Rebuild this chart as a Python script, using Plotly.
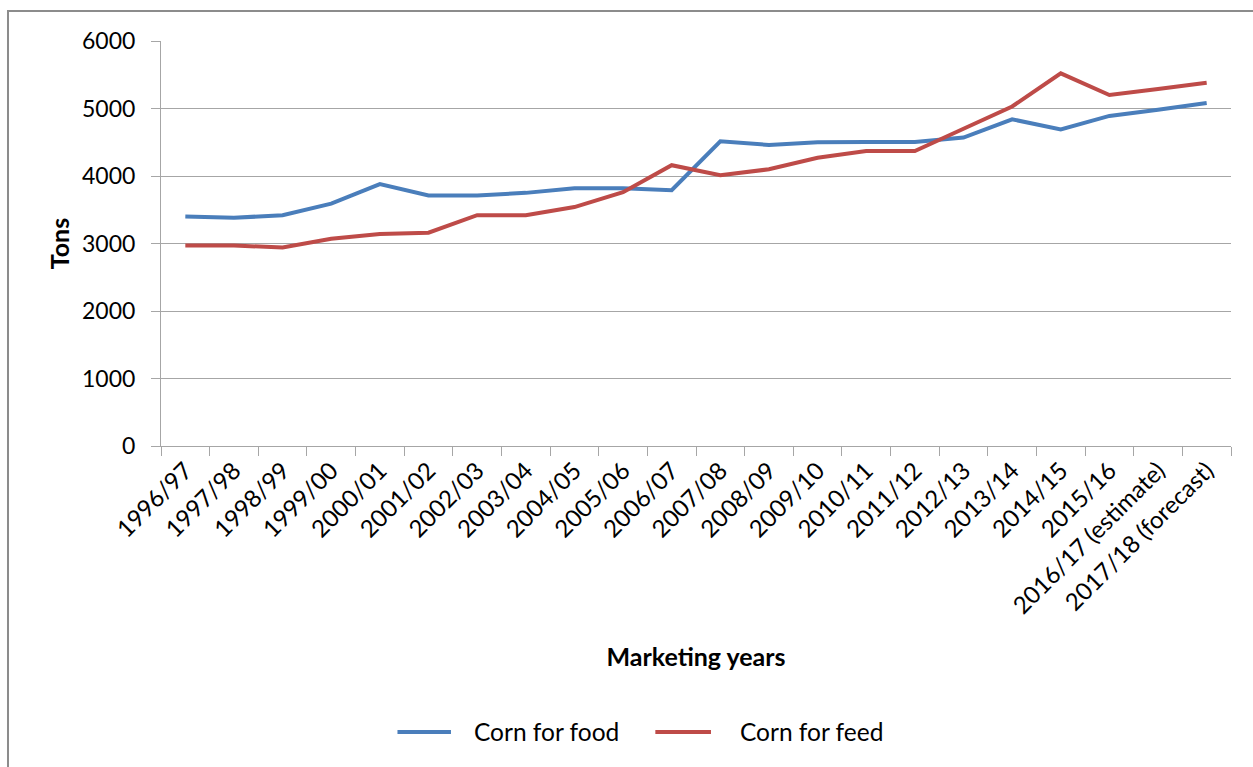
import plotly.graph_objects as go

# Marketing years (x categories)
years = [
    "1996/97", "1997/98", "1998/99", "1999/00", "2000/01", "2001/02",
    "2002/03", "2003/04", "2004/05", "2005/06", "2006/07", "2007/08",
    "2008/09", "2009/10", "2010/11", "2011/12", "2012/13", "2013/14",
    "2014/15", "2015/16", "2016/17 (estimate)", "2017/18 (forecast)",
]

# Corn use, tons
corn_for_food = [
    3400, 3380, 3420, 3590, 3880, 3710, 3710, 3750, 3820, 3820, 3790,
    4515, 4460, 4500, 4505, 4505, 4570, 4840, 4690, 4890, 4980, 5080,
]
corn_for_feed = [
    2970, 2970, 2940, 3070, 3140, 3160, 3420, 3420, 3540, 3760, 4160,
    4010, 4100, 4270, 4370, 4370, 4700, 5030, 5520, 5200, 5290, 5380,
]

y_ticks = [0, 1000, 2000, 3000, 4000, 5000, 6000]

series = [
    ("Corn for food", corn_for_food, "#4a7ebb"),
    ("Corn for feed", corn_for_feed, "#be4b48"),
]

FONT = "Lato"
GRID = "#a6a6a6"

fig = go.Figure()
for name, values, color in series:
    fig.add_trace(go.Scatter(
        x=years, y=values, name=name, mode="lines",
        line=dict(color=color, width=4), showlegend=False,
    ))

# Legend below the axis title: a short line sample followed by the series name
legend_y = -0.706
legend_items = [(0.221, 0.271, 0.291), (0.462, 0.514, 0.539)]
shapes = [dict(
    type="rect", xref="paper", yref="paper",
    x0=-0.143, x1=1.03, y0=-0.82, y1=1.074,
    line=dict(color="#8c8c8c", width=2), layer="below",
)]
annotations = []
for (name, _, color), (lx0, lx1, tx) in zip(series, legend_items):
    shapes.append(dict(
        type="line", xref="paper", yref="paper",
        x0=lx0, x1=lx1, y0=legend_y, y1=legend_y,
        line=dict(color=color, width=4),
    ))
    annotations.append(dict(
        text=name, xref="paper", yref="paper", x=tx, y=legend_y,
        xanchor="left", yanchor="middle", showarrow=False,
        font=dict(family=FONT, size=24.5, color="black"),
    ))

fig.update_layout(
    width=1253, height=767,
    margin=dict(l=161, r=22, t=41, b=321),
    paper_bgcolor="white", plot_bgcolor="white",
    font=dict(family=FONT, size=22, color="black"),
    xaxis=dict(
        type="category", range=[-0.5, len(years) - 0.5],
        tickangle=-45,
        ticks="outside", ticklen=9, tickcolor=GRID, tickson="boundaries",
        showline=True, linecolor=GRID, linewidth=1,
        showgrid=False,
        tickfont=dict(family=FONT, size=24, color="black"),
        title=dict(text="<b>Marketing years</b>", standoff=30,
                   font=dict(family=FONT, size=25, color="black")),
    ),
    yaxis=dict(
        range=[0, 6000], tickvals=y_ticks,
        ticks="outside", ticklen=9, tickcolor=GRID,
        ticklabelstandoff=11,
        showline=True, linecolor=GRID, linewidth=1,
        showgrid=True, gridcolor=GRID, gridwidth=1,
        zeroline=False,
        tickfont=dict(family=FONT, size=23, color="black"),
        title=dict(text="<b>Tons</b>", standoff=5,
                   font=dict(family=FONT, size=25, color="black")),
    ),
    shapes=shapes,
    annotations=annotations,
)

fig.write_html("out.html")
